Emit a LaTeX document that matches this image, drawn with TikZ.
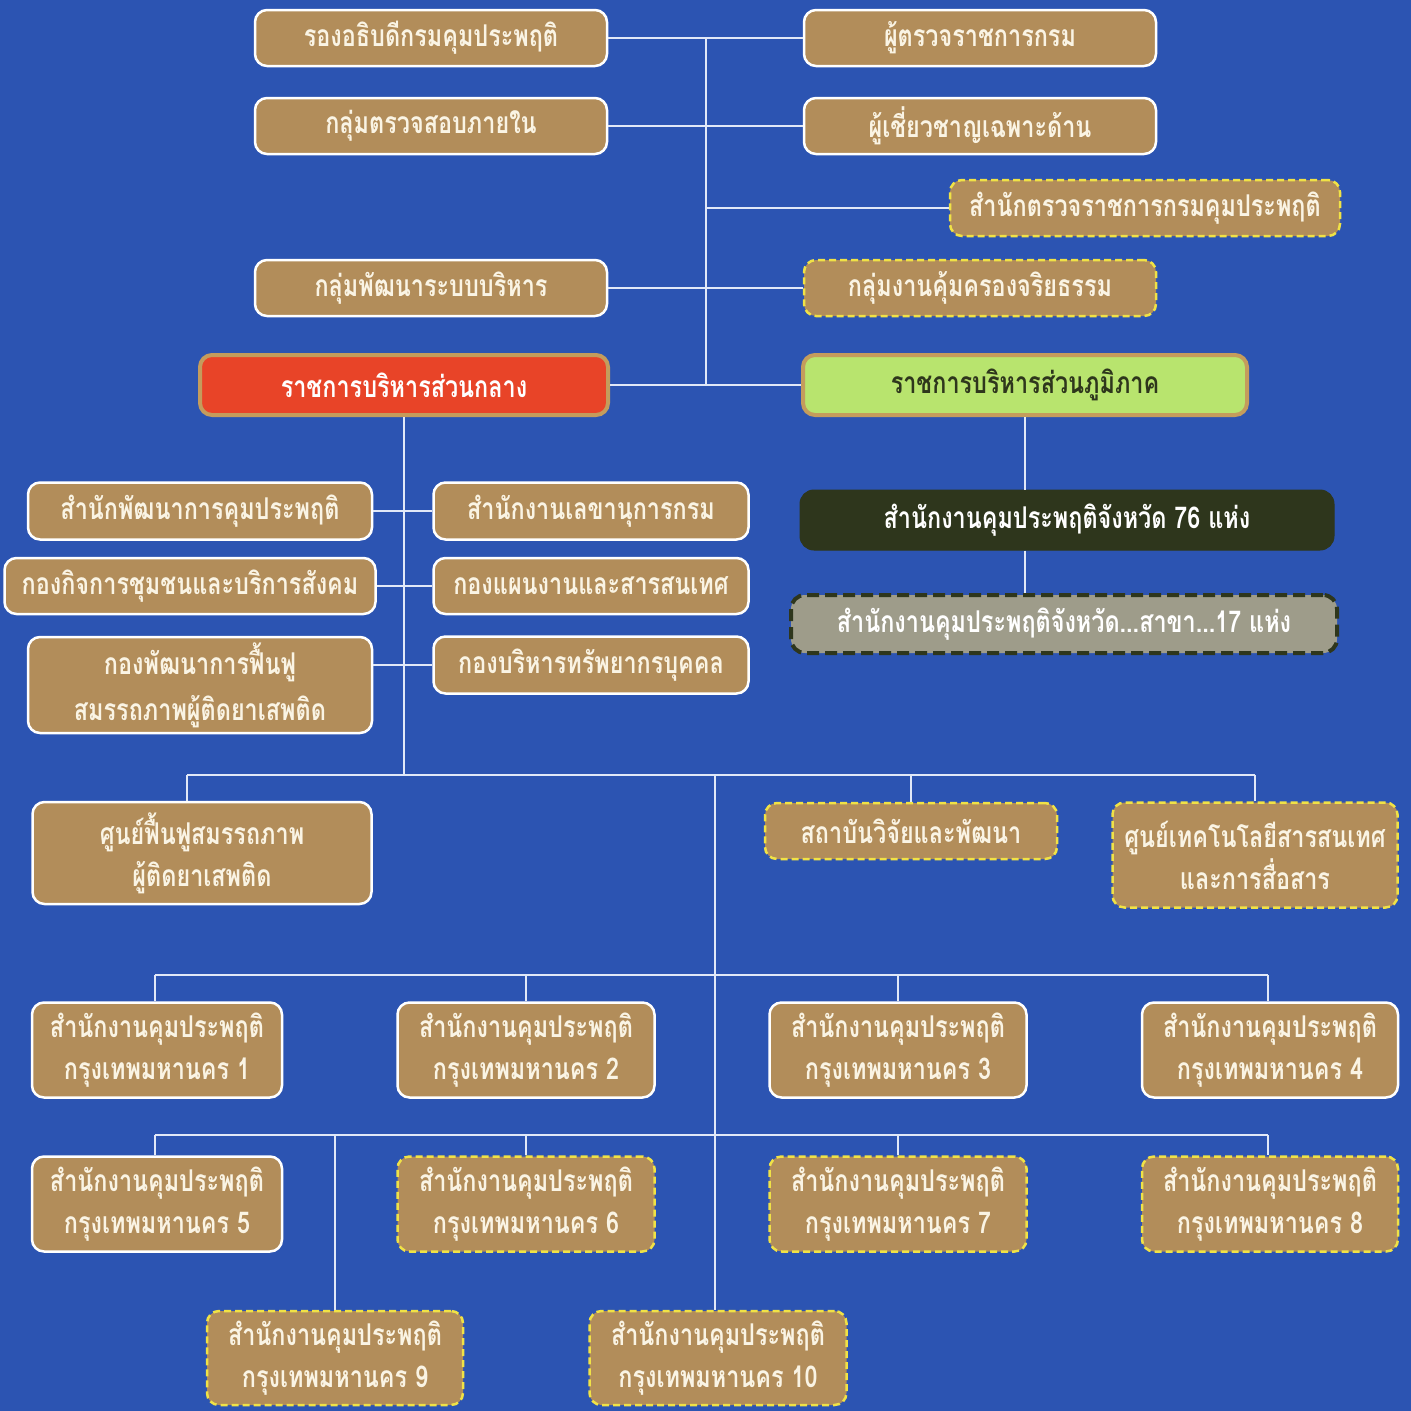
\documentclass[tikz,border=0pt]{standalone}
\usepackage{fontspec}
\newfontfamily\thaifont[Script=Thai,FakeStretch=0.78]{Loma}
\definecolor{bgblue}{RGB}{44,84,178}
\definecolor{tan}{RGB}{178,141,90}
\definecolor{cream}{RGB}{250,244,228}
\definecolor{redbox}{RGB}{232,68,40}
\definecolor{greenbox}{RGB}{184,228,110}
\definecolor{darkbox}{RGB}{46,54,28}
\definecolor{graybox}{RGB}{158,156,138}
\definecolor{dashy}{RGB}{240,226,70}
\definecolor{goldedge}{RGB}{196,156,92}
\definecolor{conncol}{RGB}{225,232,248}
\begin{document}
\begin{tikzpicture}[x=1pt,y=-1pt,
  bx/.style 2 args={minimum width=#1pt, minimum height=#2pt},
  base/.style={rounded corners=12pt, inner sep=0pt, align=center,
    font=\thaifont\bfseries\fontsize{30}{42}\selectfont},
  tanbox/.style={base, fill=tan, draw=white, line width=2.5pt, text=cream},
  dashbox/.style={base, fill=tan, draw=dashy, line width=2.5pt, dash pattern=on 7pt off 4pt, text=cream},
  redb/.style={base, fill=redbox, draw=goldedge, line width=4pt, text=white},
  greenb/.style={base, fill=greenbox, draw=goldedge, line width=4pt, text=darkbox},
  darkb/.style={base, fill=darkbox, draw=darkbox, line width=1pt, text=white, rounded corners=14pt},
  grayb/.style={base, fill=graybox, draw=darkbox, line width=4pt, dash pattern=on 12pt off 6pt, text=white, rounded corners=14pt},
  conn/.style={draw=conncol, line width=1.6pt}]
\useasboundingbox (0,0) rectangle (1411,1411);
\fill[bgblue] (0,0) rectangle (1411,1411);

% top section
\node[tanbox, bx={352}{56}] (n1) at (431,38) {รองอธิบดีกรมคุมประพฤติ};
\node[tanbox, bx={352}{56}] (n2) at (431,126) {กลุ่มตรวจสอบภายใน};
\node[tanbox, bx={352}{56}] (n3) at (980,38) {ผู้ตรวจราชการกรม};
\node[tanbox, bx={352}{56}] (n4) at (980,126) {ผู้เชี่ยวชาญเฉพาะด้าน};
\node[dashbox, bx={390}{56}] (n5) at (1145,208) {สำนักตรวจราชการกรมคุมประพฤติ};
\node[tanbox, bx={352}{56}] (n6) at (431,288) {กลุ่มพัฒนาระบบบริหาร};
\node[dashbox, bx={352}{56}] (n7) at (980,288) {กลุ่มงานคุ้มครองจริยธรรม};
\node[redb, bx={408}{60}] (red) at (404,385) {ราชการบริหารส่วนกลาง};
\node[greenb, bx={444}{60}] (green) at (1025,385) {ราชการบริหารส่วนภูมิภาค};

% central units
\node[tanbox, bx={344}{57}] (c1) at (200,511) {สำนักพัฒนาการคุมประพฤติ};
\node[tanbox, bx={315}{57}] (c2) at (591,511) {สำนักงานเลขานุการกรม};
\node[tanbox, bx={371}{56}] (c3) at (190,586) {กองกิจการชุมชนและบริการสังคม};
\node[tanbox, bx={315}{56}] (c4) at (591,586) {กองแผนงานและสารสนเทศ};
\node[tanbox, bx={344}{96}, font=\thaifont\bfseries\fontsize{30}{46}\selectfont] (c5) at (200,685) {กองพัฒนาการฟื้นฟู\\สมรรถภาพผู้ติดยาเสพติด};
\node[tanbox, bx={315}{57}] (c6) at (591,665) {กองบริหารทรัพยากรบุคคล};

% regional units
\node[darkb, bx={534}{60}] (d1) at (1067,520) {สำนักงานคุมประพฤติจังหวัด 76 แห่ง};
\node[grayb, bx={546}{58}] (d2) at (1064,624) {สำนักงานคุมประพฤติจังหวัด...สาขา...17 แห่ง};

% bottom level
\node[tanbox, bx={339}{102}] (s1) at (202,853) {ศูนย์ฟื้นฟูสมรรถภาพ\\ผู้ติดยาเสพติด};
\node[dashbox, bx={292}{56}] (s2) at (911,831) {สถาบันวิจัยและพัฒนา};
\node[dashbox, bx={285}{105}] (s3) at (1255,855) {ศูนย์เทคโนโลยีสารสนเทศ\\และการสื่อสาร};

\node[tanbox, bx={250}{95}] (k1) at (157,1050) {สำนักงานคุมประพฤติ\\กรุงเทพมหานคร 1};
\node[tanbox, bx={257}{95}] (k2) at (526,1050) {สำนักงานคุมประพฤติ\\กรุงเทพมหานคร 2};
\node[tanbox, bx={257}{95}] (k3) at (898,1050) {สำนักงานคุมประพฤติ\\กรุงเทพมหานคร 3};
\node[tanbox, bx={256}{95}] (k4) at (1270,1050) {สำนักงานคุมประพฤติ\\กรุงเทพมหานคร 4};
\node[tanbox, bx={250}{95}] (k5) at (157,1204) {สำนักงานคุมประพฤติ\\กรุงเทพมหานคร 5};
\node[dashbox, bx={257}{95}] (k6) at (526,1204) {สำนักงานคุมประพฤติ\\กรุงเทพมหานคร 6};
\node[dashbox, bx={257}{95}] (k7) at (898,1204) {สำนักงานคุมประพฤติ\\กรุงเทพมหานคร 7};
\node[dashbox, bx={256}{95}] (k8) at (1270,1204) {สำนักงานคุมประพฤติ\\กรุงเทพมหานคร 8};
\node[dashbox, bx={256}{94}] (k9) at (335,1358) {สำนักงานคุมประพฤติ\\กรุงเทพมหานคร 9};
\node[dashbox, bx={257}{94}] (k10) at (718,1358) {สำนักงานคุมประพฤติ\\กรุงเทพมหานคร 10};

% connectors: top
\coordinate (tt) at (706,38);
\draw[conn] (n1.east) -- (n3.west);
\draw[conn] (n2.east) -- (n4.west);
\draw[conn] (n6.east) -- (n7.west);
\draw[conn] (red.east) -- (green.west);
\draw[conn] (tt) -- (tt |- red.east);
\draw[conn] (n5.west) -- (n5.west -| tt);

% central
\coordinate (cb) at (404,775);
\draw[conn] (red.south) -- (cb);
\draw[conn] (c1.east) -- (c2.west);
\draw[conn] (c3.east) -- (c4.west);
\draw[conn] (c6.west) -- (c6.west -| c5.east);

% regional
\draw[conn] (green.south) -- (green.south |- d1.north);
\draw[conn] (green.south |- d1.south) -- (green.south |- d2.north);

% bottom bus
\coordinate (bL) at (187,775);
\coordinate (bR) at (1255,775);
\coordinate (tm) at (715,775);
\draw[conn] (bL) -- (bR);
\draw[conn] (bL) -- (bL |- s1.north);
\draw[conn] (s2.north) -- (s2.north |- bL);
\draw[conn] (s3.north) -- (s3.north |- bL);
\draw[conn] (tm) -- (tm |- k10.north);

\coordinate (r1L) at (155,975);
\coordinate (r1R) at (1268,975);
\draw[conn] (r1L) -- (r1R);
\draw[conn] (r1L) -- (r1L |- k1.north);
\draw[conn] (k2.north) -- (k2.north |- r1L);
\draw[conn] (k3.north) -- (k3.north |- r1L);
\draw[conn] (r1R) -- (r1R |- k4.north);

\coordinate (r2L) at (155,1135);
\coordinate (r2R) at (1268,1135);
\draw[conn] (r2L) -- (r2R);
\draw[conn] (r2L) -- (r2L |- k5.north);
\draw[conn] (k6.north) -- (k6.north |- r2L);
\draw[conn] (k7.north) -- (k7.north |- r2L);
\draw[conn] (r2R) -- (r2R |- k8.north);
\draw[conn] (k9.north) -- (k9.north |- r2L);
\end{tikzpicture}
\end{document}
